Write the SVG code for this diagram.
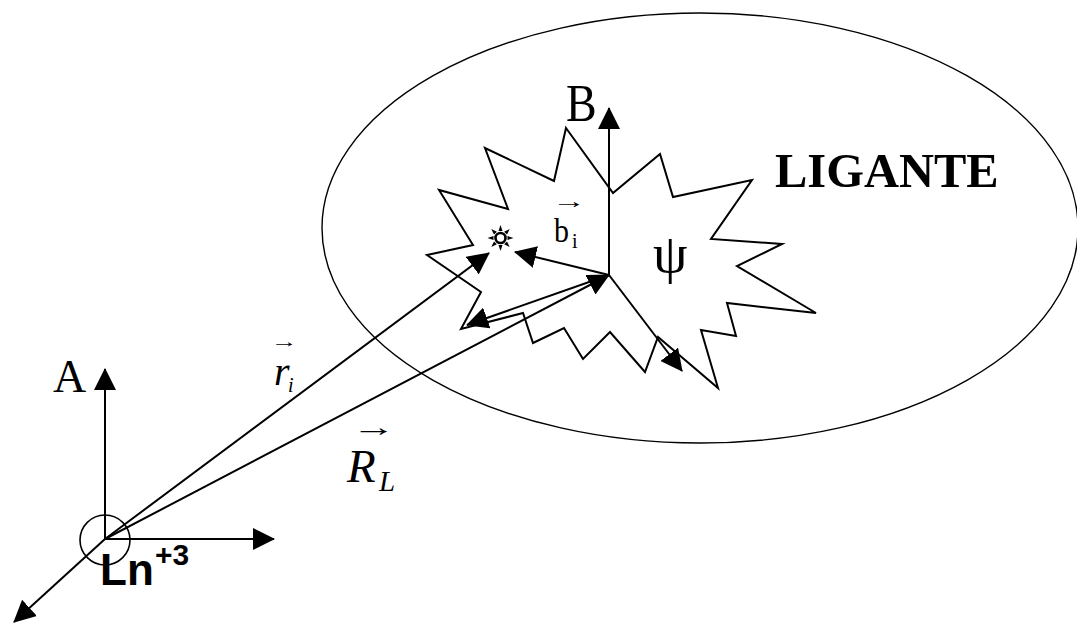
<svg xmlns="http://www.w3.org/2000/svg" width="1077" height="632" viewBox="0 0 1077 632">
<defs>
<style>
.ln{stroke:#000;stroke-width:2;fill:none}
.ar{stroke:#000;stroke-width:2;fill:none;marker-end:url(#ah)}
.sf{font-family:"Liberation Serif","Times New Roman",serif;fill:#000}
.it{font-style:italic}
.ss{font-family:"Liberation Sans",Arial,sans-serif;font-weight:bold;fill:#000}
</style>
<marker id="ah" viewBox="0 0 22 22" refX="21" refY="11" markerWidth="22" markerHeight="22" markerUnits="userSpaceOnUse" orient="auto">
<path d="M0,0 L22,11 L0,22 z" fill="#000"/>
</marker>
</defs>
<rect width="1077" height="632" fill="#fff"/>

<g id="ligand">
<ellipse cx="700" cy="228" rx="378" ry="215" fill="none" stroke="#000" stroke-width="1.4"/>
<text class="sf" x="775" y="187" font-size="48.5" font-weight="bold">LIGANTE</text>
</g>

<g id="molecule">
<polygon class="ln" points="566,128 613,193 660,154 673,197 752,180 711,239 782,244 737,266 816,313 727,303 736,336 701,330 718,388 658,337 645,372 610,332 583,359 564,328 533,343 523,313 461,329 481,292 427,255 473,245 439,190 508,209 485,148 554,181"/>
<text class="sf" x="653" y="272" font-size="55">ψ</text>
</g>

<g id="atom">
<circle cx="500.5" cy="238" r="5" fill="#fff" stroke="#000" stroke-width="2.6"/>
<g fill="#000">
<polygon points="498.5,231 502.5,231 500.5,225"/>
<polygon points="498.5,245 502.5,245 500.5,251"/>
<polygon points="493.5,236 493.5,240 487.5,238"/>
<polygon points="507.5,236 507.5,240 513.5,238"/>
<polygon points="494,234.6 496.9,231.7 491.3,229"/>
<polygon points="507,234.6 504.1,231.7 509.7,229"/>
<polygon points="494,241.4 496.9,244.3 491.3,247"/>
<polygon points="507,241.4 504.1,244.3 509.7,247"/>
</g>
</g>

<g id="origin">
<circle cx="105" cy="540" r="25" fill="none" stroke="#000" stroke-width="1.6"/>
<text class="ss" x="100" y="585" font-size="44">Ln</text>
<text class="ss" x="155" y="565" font-size="30">+3</text>
</g>

<g id="connectors">
<line class="ar" x1="609" y1="275" x2="609" y2="108"/>
<line class="ar" x1="105" y1="539" x2="105" y2="369"/>
<line class="ar" x1="105" y1="539" x2="274" y2="539"/>
<line class="ar" x1="105" y1="539" x2="14" y2="622"/>
<line class="ar" x1="105" y1="539" x2="489" y2="253"/>
<line class="ar" x1="105" y1="539" x2="609" y2="275"/>
<line class="ar" x1="609" y1="275" x2="515" y2="252"/>
<line class="ar" x1="609" y1="275" x2="467" y2="325"/>
<line class="ar" x1="609" y1="275" x2="682" y2="371"/>
</g>

<g id="labels">
<text class="sf" transform="translate(566,121) scale(1,1.15)" font-size="46">B</text>
<text class="sf" x="53" y="392" font-size="46">A</text>
<text class="sf" x="552" y="208" font-size="20" textLength="34" lengthAdjust="spacingAndGlyphs">→</text>
<text class="sf" transform="translate(554,242) scale(1,1.15)" font-size="30">b</text>
<text class="sf" x="572" y="248" font-size="20">i</text>
<text class="sf" x="271" y="347" font-size="16" textLength="27" lengthAdjust="spacingAndGlyphs">→</text>
<text class="sf it" x="274" y="385" font-size="40">r</text>
<text class="sf it" x="288" y="392" font-size="20">i</text>
<text class="sf" x="352" y="436" font-size="26" textLength="44" lengthAdjust="spacingAndGlyphs">→</text>
<text class="sf it" x="347" y="482" font-size="47">R</text>
<text class="sf it" x="379" y="491" font-size="29">L</text>
</g>
</svg>
